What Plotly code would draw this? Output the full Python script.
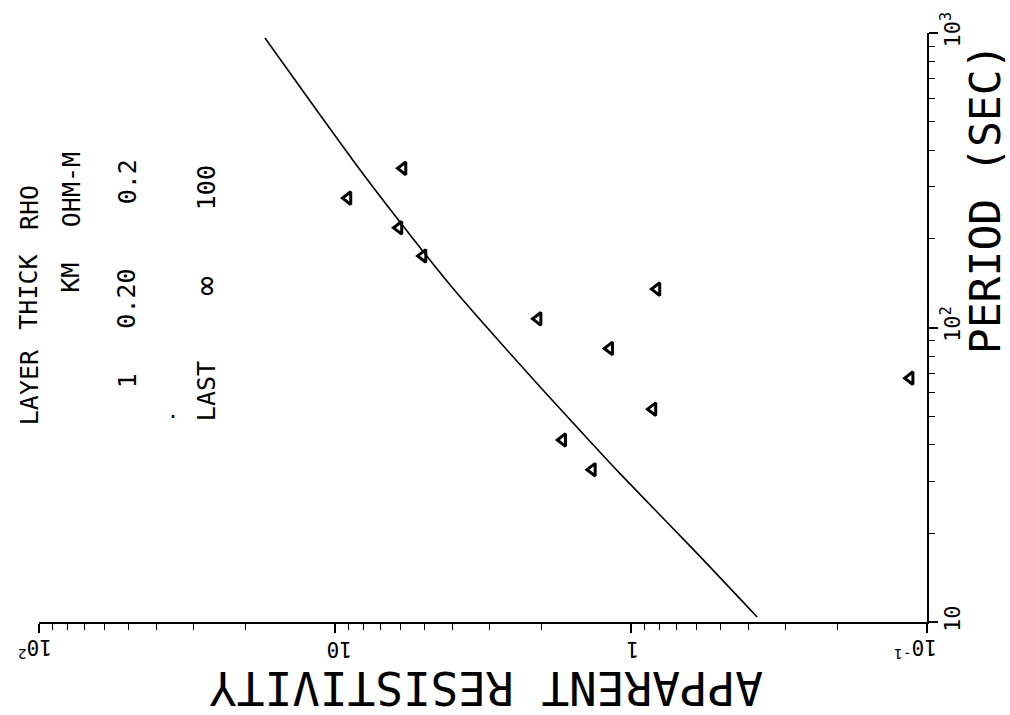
import math
import plotly.graph_objects as go

# ---- data ----
# observed apparent resistivity (ohm-m) vs period (s)
obs_period = [32.9, 41.5, 52.8, 67.3, 84.9, 107, 135, 175, 218, 275, 347]
obs_rho = [1.35, 1.70, 0.843, 0.114, 1.18, 2.06, 0.817, 5.04, 6.08, 9.04, 5.89]

# model curve (2-layer model)
model_period = [10.4, 17.1, 31.9, 43.5, 66.7, 135.6, 235, 370, 961]
model_rho = [0.375, 0.598, 1.089, 1.45, 2.14, 3.99, 6.17, 8.70, 17.24]

rho_ticks = [100, 10, 1, 0.1]
rho_ticktext = ["10<sup>2</sup>", "10", "1", "10<sup>-1</sup>"]
period_ticks = [10, 100, 1000]
period_ticktext = ["10", "10<sup>2</sup>", "10<sup>3</sup>"]

legend_rows = [
    ["LAYER", "THICK", "RHO"],
    ["", "KM", "OHM-M"],
    ["1", "0.20", "0.2"],
    ["LAST", "\u221e", "100"],
]

FONT = "DejaVu Sans Mono"
W, H = 1010, 715
L, R, T, B = 39, 83, 30, 93
PW, PH = W - L - R, H - T - B


def paper(x, y):
    return (x - L) / PW, (H - B - y) / PH


rho_minor = [m * 10 ** e for e in (-1, 0, 1) for m in range(2, 10)]
per_minor = [m * 10 ** e for e in (1, 2) for m in range(2, 10)]

fig = go.Figure()
fig.add_trace(go.Scatter(
    x=model_rho, y=model_period, mode="lines",
    line=dict(color="black", width=1.6, shape="spline", smoothing=0.8),
    showlegend=False))
fig.add_trace(go.Scatter(
    x=obs_rho, y=obs_period, mode="markers",
    marker=dict(symbol="triangle-left-open", size=11, color="black",
                line=dict(width=3, color="black")),
    showlegend=False))

annotations = []
# legend block (rotated)
col_x = [29, 71, 127, 206]
tok_y = [
    [386, 291, 206],
    [None, 276, 188],
    [380, 297, 180],
    [390, 285, 186],
]
for r, row in enumerate(legend_rows):
    for c, tok in enumerate(row):
        if not tok:
            continue
        px, py = paper(col_x[r], tok_y[r][c])
        size = 32 if tok == "\u221e" else 25
        annotations.append(dict(
            x=px, y=py, xref="paper", yref="paper", text=tok,
            textangle=-90, showarrow=False, xanchor="center", yanchor="middle",
            font=dict(family=FONT, size=size, color="black")))

# stray dot
px, py = paper(173, 410)
annotations.append(dict(x=px, y=py, xref="paper", yref="paper", text=".",
                        showarrow=False, xanchor="center", yanchor="middle",
                        font=dict(family=FONT, size=20, color="black")))

# upside-down resistivity tick labels, placed on the x axis scale
label_shift = [-4, 5, 2, -11]
_, lab_y = paper(0, 649)
for v, t, s in zip(rho_ticks, rho_ticktext, label_shift):
    annotations.append(dict(
        x=math.log10(v), y=lab_y, xref="x", yref="paper", text=t,
        textangle=180, showarrow=False, xanchor="center", yanchor="middle",
        xshift=s, font=dict(family=FONT, size=21, color="black")))

# axis titles
px, py = paper(985, 197)
annotations.append(dict(x=px, y=py, xref="paper", yref="paper",
                        text="PERIOD (SEC)", textangle=-90, showarrow=False,
                        xanchor="center", yanchor="middle",
                        font=dict(family=FONT, size=43, color="black")))
px, py = paper(486, 689)
annotations.append(dict(x=px, y=py, xref="paper", yref="paper",
                        text="APPARENT RESISTIVITY", textangle=180,
                        showarrow=False, xanchor="center", yanchor="middle",
                        font=dict(family=FONT, size=46, color="black")))

fig.update_layout(
    width=W, height=H,
    margin=dict(l=L, r=R, t=T, b=B, pad=0),
    paper_bgcolor="white", plot_bgcolor="white",
    annotations=annotations,
    xaxis=dict(
        type="log", range=[2, -1], showgrid=False, zeroline=False,
        showline=True, linecolor="black", linewidth=2,
        ticks="outside", ticklen=9, tickwidth=1.5, tickcolor="black",
        tickmode="array", tickvals=rho_ticks, showticklabels=False,
        minor=dict(tickmode="array", tickvals=rho_minor, ticks="outside",
                   ticklen=6, tickwidth=1.2, tickcolor="black",
                   showgrid=False),
    ),
    yaxis=dict(
        type="log", range=[1, 3], side="right", showgrid=False,
        zeroline=False, showline=True, linecolor="black", linewidth=2,
        ticks="outside", ticklen=9, tickwidth=1.5, tickcolor="black",
        tickmode="array", tickvals=period_ticks, ticktext=period_ticktext,
        tickangle=-90, ticklabelstandoff=-4,
        tickfont=dict(family=FONT, size=22, color="black"),
        minor=dict(tickmode="array", tickvals=per_minor, ticks="outside",
                   ticklen=6, tickwidth=1.2, tickcolor="black",
                   showgrid=False),
    ),
)

fig.write_html("out.html")
